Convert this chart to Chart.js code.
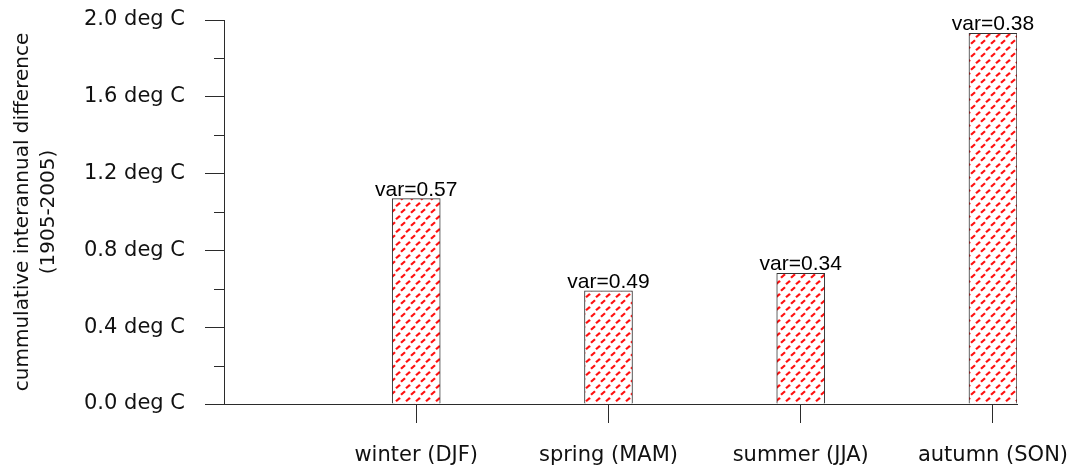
<!DOCTYPE html>
<html>
<head>
<meta charset="utf-8">
<script src="https://cdn.jsdelivr.net/npm/chart.js@4.4.1/dist/chart.umd.min.js"></script>
<style>
  html, body { margin: 0; padding: 0; background: #ffffff; }
  #wrap { width: 1075px; height: 473px; }
</style>
</head>
<body>
<div id="wrap"><canvas id="c" width="1075" height="473"></canvas></div>
<script>
// Seasonal cumulative interannual temperature difference, 1905-2005
const seasons = ['winter (DJF)', 'spring (MAM)', 'summer (JJA)', 'autumn (SON)'];
const seasonPos = [1, 2, 3, 4];
const cumDiff = [1.07, 0.59, 0.68, 1.93];
const variances = ['0.57', '0.49', '0.34', '0.38'];
const yTickValues = [0.0, 0.4, 0.8, 1.2, 1.6, 2.0];
const yMinorValues = [0.2, 0.6, 1.0, 1.4, 1.8];

const axisColor = '#2b2b2b';
const tickFont = { family: 'DejaVu Sans', size: 21 };

// Red dashed hatch fill for the bars
function makeHatch() {
  const t = document.createElement('canvas');
  t.width = 10; t.height = 13;
  const g = t.getContext('2d');
  g.fillStyle = '#ffffff';
  g.fillRect(0, 0, 10, 13);
  g.strokeStyle = '#ff1010';
  g.lineWidth = 2.2;
  g.lineCap = 'butt';
  const dash = (cx, cy) => {
    for (const dx of [-10, 0, 10]) {
      for (const dy of [-13, 0, 13]) {
        g.beginPath();
        g.moveTo(cx + dx - 2, cy + dy + 1.8);
        g.lineTo(cx + dx + 2, cy + dy - 1.8);
        g.stroke();
      }
    }
  };
  dash(3, 3);
  dash(8, 9.5);
  return g.createPattern(t, 'repeat');
}

const ctx = document.getElementById('c').getContext('2d');
const hatch = makeHatch();

// Short minor ticks on the value axis, plus value notes over bars
const extras = {
  id: 'extras',
  afterDraw(chart) {
    const c = chart.ctx;
    const y = chart.scales.y;
    c.save();
    c.strokeStyle = axisColor;
    c.lineWidth = 1;
    yMinorValues.forEach(v => {
      const py = Math.round(y.getPixelForValue(v)) + 0.5;
      c.beginPath();
      c.moveTo(y.right - 10, py);
      c.lineTo(y.right, py);
      c.stroke();
    });
    const meta = chart.getDatasetMeta(0);
    c.fillStyle = '#000000';
    c.font = '21px "Liberation Sans", Arial, sans-serif';
    c.textAlign = 'center';
    c.textBaseline = 'alphabetic';
    meta.data.forEach((bar, i) => {
      c.fillText('var=' + variances[i], bar.x, bar.y - 3);
    });
    c.restore();
  }
};

new Chart(ctx, {
  type: 'bar',
  data: {
    datasets: [{
      data: seasonPos.map((p, i) => ({ x: p, y: cumDiff[i] })),
      backgroundColor: hatch,
      borderColor: '#333333',
      borderWidth: 1,
      barThickness: 48
    }]
  },
  options: {
    responsive: false,
    animation: false,
    events: [],
    layout: { padding: { top: 20, right: 58, left: 0, bottom: 0 } },
    plugins: { legend: { display: false }, tooltip: { enabled: false } },
    scales: {
      x: {
        type: 'linear',
        offset: false,
        min: 0,
        max: 4.125,
        afterBuildTicks: (s) => { s.ticks = seasonPos.map(v => ({ value: v })); },
        afterFit: (s) => {
          s.height = 69;
          s.paddingLeft = 0;
          s.paddingRight = 0;
        },
        ticks: {
          callback: (v) => seasons[seasonPos.indexOf(v)] || '',
          font: tickFont,
          color: '#111111',
          padding: 20,
          maxRotation: 0,
          autoSkip: false
        },
        grid: {
          offset: false,
          drawOnChartArea: false,
          drawTicks: true,
          tickLength: 19,
          tickColor: axisColor,
          lineWidth: 1
        },
        border: { display: true, color: axisColor, width: 1 }
      },
      y: {
        min: 0,
        max: 2.0,
        afterBuildTicks: (s) => { s.ticks = yTickValues.map(v => ({ value: v })); },
        afterFit: (s) => {
          s.width = 224;
          s.paddingTop = 0;
          s.paddingBottom = 0;
        },
        ticks: {
          callback: (v) => v.toFixed(1) + ' deg C',
          font: tickFont,
          color: '#111111',
          padding: 20
        },
        grid: {
          drawOnChartArea: false,
          drawTicks: true,
          tickLength: 19,
          tickColor: axisColor,
          lineWidth: 1
        },
        border: { display: true, color: axisColor, width: 1 },
        title: {
          display: true,
          text: ['cummulative interannual difference', '(1905-2005)'],
          font: { family: 'DejaVu Sans', size: 20, lineHeight: 1.3 },
          color: '#111111',
          padding: { top: 10, bottom: 0 }
        }
      }
    }
  },
  plugins: [extras]
});
</script>
</body>
</html>
